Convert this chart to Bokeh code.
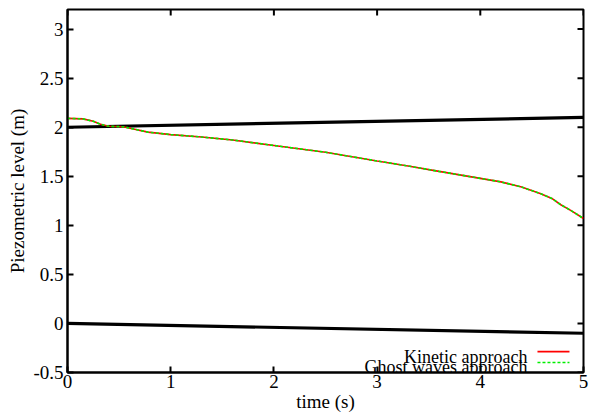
import math
from bokeh.plotting import figure
from bokeh.models import FixedTicker, Range1d, Label, ColumnDataSource
from bokeh.embed import file_html
from bokeh.resources import INLINE

# data
time_s = [0.0, 0.15, 0.25, 0.32, 0.4, 0.54, 0.65, 0.78, 1.0, 1.3, 1.6, 2.0, 2.5, 3.0,
          3.3, 3.6, 4.0, 4.2, 4.4, 4.58, 4.7, 4.78, 4.88, 4.97, 5.0]
kinetic = [2.09, 2.085, 2.06, 2.03, 2.01, 2.005, 1.98, 1.95, 1.925, 1.9, 1.87, 1.814, 1.745, 1.656,
           1.605, 1.55, 1.479, 1.443, 1.39, 1.325, 1.27, 1.21, 1.15, 1.09, 1.07]
ghost = list(kinetic)
upper_t = [0.0, 5.0]
upper_h = [2.0, 2.1]
lower_t = [0.0, 5.0]
lower_h = [0.0, -0.1]

x_ticks = [0, 1, 2, 3, 4, 5]
x_tick_labels = ["0", "1", "2", "3", "4", "5"]
y_ticks = [-0.5, 0, 0.5, 1, 1.5, 2, 2.5, 3]
y_tick_labels = ["-0.5", "0", "0.5", "1", "1.5", "2", "2.5", "3"]
legend_labels = ["Kinetic approach", "Ghost waves approach"]

X0, X1 = 0, 5
Y0, Y1 = -0.5, 3.2

FONT = "Liberation Serif"
FS = "19px"

p = figure(width=591, height=414, output_backend="svg", toolbar_location=None,
           x_range=Range1d(X0, X1), y_range=Range1d(Y0, Y1),
           min_border_left=67, min_border_top=9, min_border_right=8, min_border_bottom=37,
           x_axis_label="time (s)", y_axis_label="Piezometric level (m)")
p.xgrid.visible = False
p.ygrid.visible = False
p.outline_line_color = "black"
p.outline_line_width = 2
p.background_fill_color = "white"
p.border_fill_color = "white"

for ax, ticks, labels in ((p.xaxis[0], x_ticks, x_tick_labels), (p.yaxis[0], y_ticks, y_tick_labels)):
    ax.ticker = FixedTicker(ticks=ticks)
    ax.major_label_overrides = {t: l for t, l in zip(ticks, labels)}
    ax.minor_tick_line_color = None
    ax.major_tick_in = 6
    ax.major_tick_out = 0
    ax.major_tick_line_width = 2
    ax.axis_line_width = 2
    ax.major_label_text_font = FONT
    ax.major_label_text_font_size = FS
    ax.major_label_text_color = "black"
    ax.axis_label_text_font = FONT
    ax.axis_label_text_font_size = FS
    ax.axis_label_text_font_style = "normal"
    ax.axis_label_text_color = "black"
p.xaxis[0].major_label_standoff = 2
p.xaxis[0].axis_label_standoff = 0
p.yaxis[0].major_label_standoff = 4
p.yaxis[0].axis_label_standoff = 2

# mirrored inward ticks on top and right (screen-length rays)
p.ray(x=x_ticks, y=[Y1] * len(x_ticks), length=6, length_units="screen",
      angle=-math.pi / 2, line_color="black", line_width=2)
p.ray(x=[X1] * len(y_ticks), y=y_ticks, length=6, length_units="screen",
      angle=math.pi, line_color="black", line_width=2)

p.line(upper_t, upper_h, line_color="black", line_width=3.2)
p.line(lower_t, lower_h, line_color="black", line_width=3.2)

src = ColumnDataSource(dict(t=time_s, k=kinetic, g=ghost))
p.line("t", "k", source=src, line_color="#ff0000", line_width=1.6)
p.line("t", "g", source=src, line_color="#00ee00", line_width=1.6, line_dash="3 2")

# gnuplot-style key: text right-aligned, then sample line
key_text_x = 4.457
key_text_y = [-0.345, -0.449]
key_line_y = [-0.287, -0.398]
key_colors = ["#ff0000", "#00ee00"]
key_dash = ["solid", "3 2"]
for txt, ty, ly, c, d in zip(legend_labels, key_text_y, key_line_y, key_colors, key_dash):
    p.add_layout(Label(x=key_text_x, y=ty, text=txt, text_align="right", text_baseline="alphabetic",
                       text_font=FONT, text_font_size="18px", text_color="black"))
    p.ray(x=[4.554], y=[ly], length=32, length_units="screen", angle=0,
          line_color=c, line_width=1.6, line_dash=d)

open("out.html", "w").write(file_html(p, INLINE))
